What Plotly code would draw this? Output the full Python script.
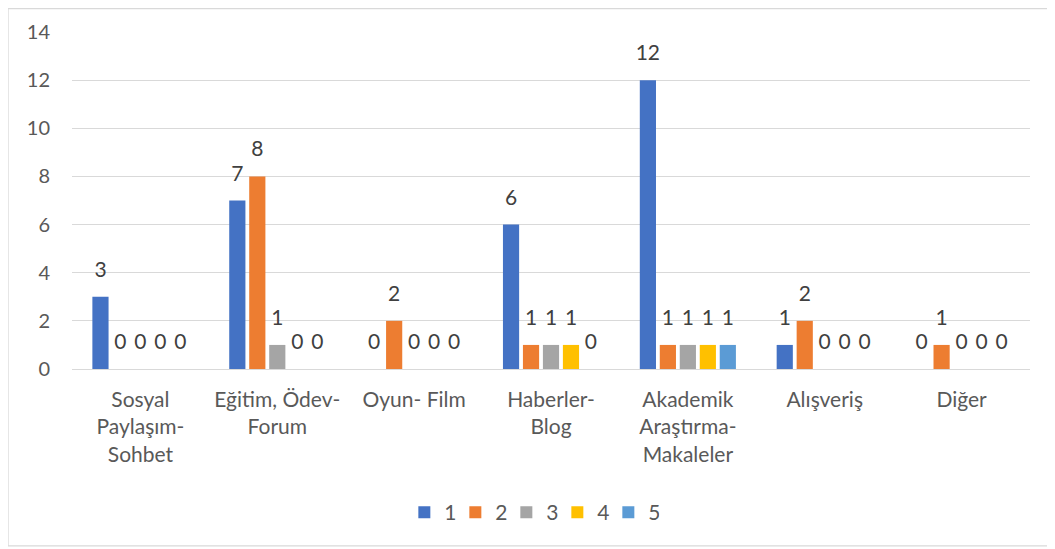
import plotly.graph_objects as go

kategoriler = ["Sosyal<br>Paylaşım-<br>Sohbet", "Eğitim, Ödev-<br>Forum", "Oyun- Film",
               "Haberler-<br>Blog", "Akademik<br>Araştırma-<br>Makaleler", "Alışveriş", "Diğer"]
seriler = ["1", "2", "3", "4", "5"]
s1 = [3, 7, 0, 6, 12, 1, 0]
s2 = [0, 8, 2, 1, 1, 2, 1]
s3 = [0, 1, 0, 1, 1, 0, 0]
s4 = [0, 0, 0, 1, 1, 0, 0]
s5 = [0, 0, 0, 0, 1, 0, 0]
renkler = ["#4472C4", "#ED7D31", "#A5A5A5", "#FFC000", "#5B9BD5"]

fig = go.Figure()
for ad, vals, renk in zip(seriler, [s1, s2, s3, s4, s5], renkler):
    fig.add_trace(go.Bar(
        x=kategoriler, y=vals, name=ad,
        marker=dict(color=renk, line=dict(width=0)),
        hoverinfo="x+y+name"
    ))

# değer etiketleri: çubuğun biraz üstünde dursun diye görünmez işaretçili metin
for ad, vals in zip(seriler, [s1, s2, s3, s4, s5]):
    fig.add_trace(go.Scatter(
        x=kategoriler, y=vals, mode="markers+text",
        text=[str(v) for v in vals], textposition="top center",
        textfont=dict(size=21, color="#404040"),
        marker=dict(size=22, color="rgba(0,0,0,0)"),
        showlegend=False, hoverinfo="skip", cliponaxis=False
    ))

# sayfa gövdesinin 8px kenar boşluğu nedeniyle boyut 16px küçük
fig.update_layout(
    width=1047, height=541,
    paper_bgcolor="white", plot_bgcolor="white",
    font=dict(family="Lato, Open Sans, sans-serif", color="#595959"),
    barmode="group", bargap=0.27, bargroupgap=0.19,
    scattermode="group", scattergap=0.27,
    margin=dict(l=64, r=25, t=24, b=180),
    xaxis=dict(tickfont=dict(size=21), showline=False, ticks="", tickangle=0,
               ticklabelstandoff=16),
    yaxis=dict(range=[0, 14], dtick=2, gridcolor="#D9D9D9", gridwidth=1.3,
               zeroline=True, zerolinecolor="#D9D9D9", zerolinewidth=1.3,
               tickfont=dict(size=20), ticklabelstandoff=21),
    legend=dict(orientation="h", x=0.48, xanchor="center", y=-0.365, yanchor="top",
                font=dict(size=21), entrywidth=6, itemwidth=30),
    shapes=[dict(type="rect", xref="paper", yref="paper",
                 x0=-0.0668, x1=1.0188, y0=-0.525, y1=1.0697,
                 line=dict(color="#D9D9D9", width=1.3))]
)

fig.write_html("out.html")
